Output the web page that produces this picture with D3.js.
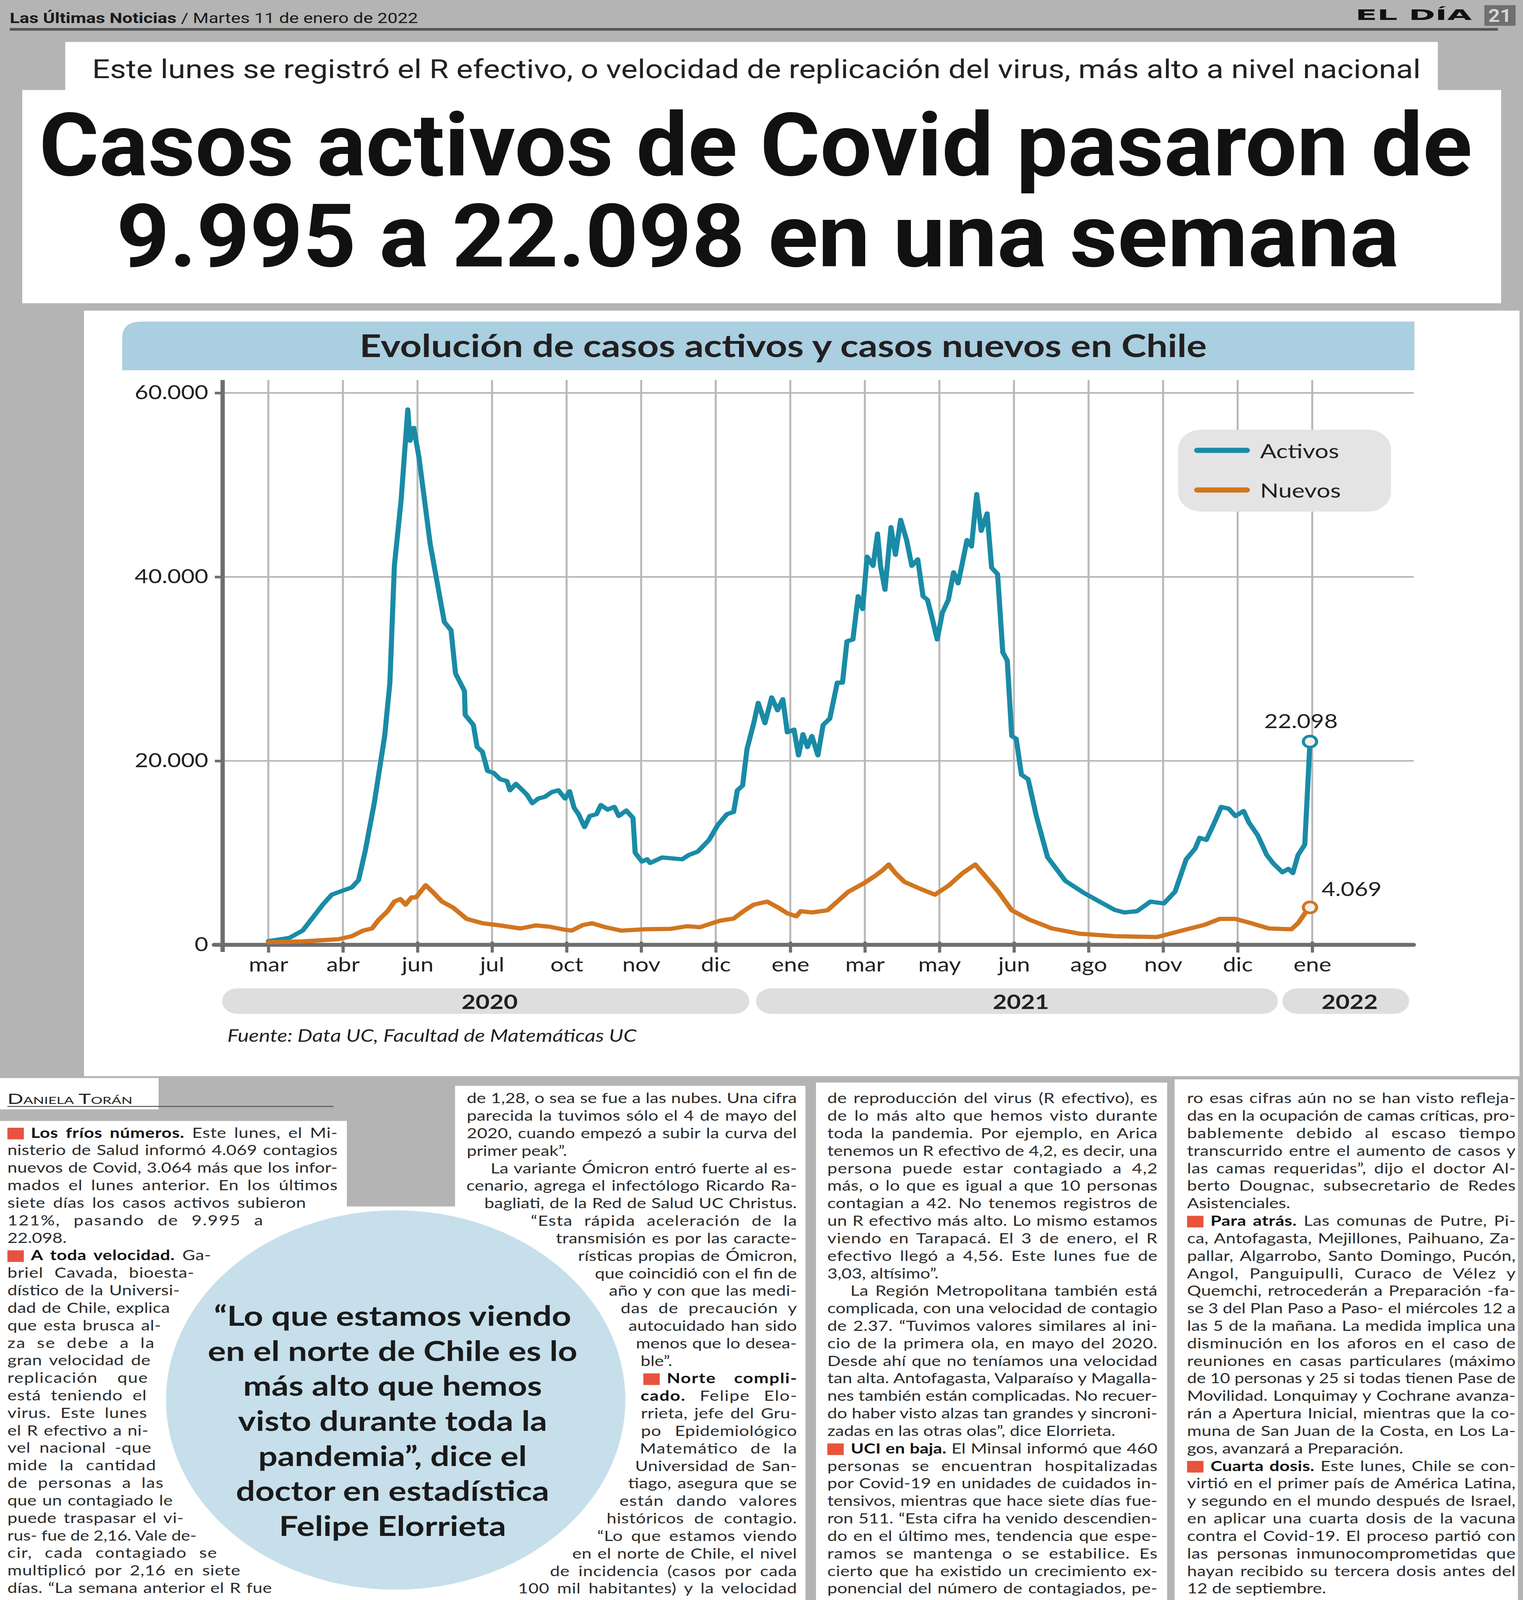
<!DOCTYPE html>
<html>
<head>
<meta charset="utf-8">
<script src="https://cdn.jsdelivr.net/npm/d3@7"></script>
<style>
    html, body { margin: 0; padding: 0; background: #b4b4b4; overflow: hidden; }
    svg { display: block; }
</style>
</head>
<body>
<div id="page"></div>
<script>

// ---- chart data (month index 0..14 = gridlines) ----
const monthLabels = ["mar", "abr", "jun", "jul", "oct", "nov", "dic", "ene", "mar", "may", "jun", "ago", "nov", "dic", "ene"];
const yTicks = [0, 20000, 40000, 60000];
const yearLabels = ["2020", "2021", "2022"];
const yearStart = [-0.62, 6.54, 13.6];
const yearEnd = [6.45, 13.54, 15.3];
const seriesNames = ["Activos", "Nuevos"];
const seriesColors = ["#1a8ba6", "#d2751f"];

const activos = [
    [0, 400], [0.28, 750], [0.46, 1550], [0.58, 2800], [0.73, 4370], [0.85, 5450], [1.0, 5900], [1.12, 6250],
    [1.21, 7040], [1.30, 10240], [1.42, 15400], [1.56, 22700], [1.63, 28500], [1.69, 41200], [1.78, 48300],
    [1.87, 58200], [1.90, 54800], [1.95, 56200], [2.02, 53000], [2.17, 43600], [2.36, 35100], [2.45, 34200],
    [2.51, 29500], [2.63, 27600], [2.64, 25000], [2.75, 23900], [2.80, 21500], [2.87, 21000], [2.94, 18900],
    [3.02, 18700], [3.11, 18000], [3.20, 17800], [3.24, 16800], [3.32, 17500], [3.41, 16800], [3.47, 16300],
    [3.54, 15400], [3.62, 15900], [3.71, 16100], [3.80, 16600], [3.89, 16800], [3.98, 15900], [4.04, 16700],
    [4.10, 14900], [4.16, 14200], [4.24, 12800], [4.31, 14000], [4.40, 14200], [4.46, 15200], [4.55, 14700],
    [4.64, 15000], [4.70, 14000], [4.80, 14600], [4.89, 13800], [4.92, 10000], [5.01, 9060], [5.08, 9300],
    [5.12, 8900], [5.28, 9500], [5.55, 9300], [5.64, 9770], [5.76, 10140], [5.91, 11400], [6.03, 13050],
    [6.15, 14200], [6.24, 14450], [6.29, 16800], [6.36, 17300], [6.42, 21300], [6.51, 24100], [6.57, 26300],
    [6.66, 24100], [6.75, 26900], [6.83, 25500], [6.90, 26700], [6.96, 23100], [7.05, 23400], [7.11, 20600],
    [7.17, 22900], [7.23, 21500], [7.29, 22700], [7.37, 20600], [7.44, 23900], [7.53, 24600], [7.63, 28500],
    [7.70, 28500], [7.76, 33000], [7.84, 33200], [7.91, 37900], [7.97, 36500], [8.03, 42200], [8.11, 41200],
    [8.17, 44700], [8.21, 41200], [8.27, 38600], [8.35, 45400], [8.41, 42400], [8.48, 46200], [8.56, 44000],
    [8.63, 41200], [8.71, 41900], [8.78, 37900], [8.84, 37500], [8.90, 35600], [8.97, 33200], [9.04, 36100],
    [9.12, 37500], [9.19, 40500], [9.25, 39300], [9.30, 41200], [9.37, 44000], [9.43, 43300], [9.50, 49000],
    [9.56, 45000], [9.64, 46900], [9.70, 41000], [9.78, 40300], [9.85, 31800], [9.91, 30900], [9.97, 22700],
    [10.03, 22400], [10.10, 18500], [10.19, 18000], [10.30, 14000], [10.45, 9530], [10.69, 6950], [10.93, 5680],
    [11.17, 4600], [11.35, 3800], [11.48, 3520], [11.65, 3660], [11.83, 4700], [12.01, 4500], [12.16, 5780],
    [12.31, 9300], [12.43, 10470], [12.49, 11640], [12.58, 11400], [12.70, 13500], [12.78, 15000], [12.88, 14800],
    [12.97, 14000], [13.08, 14550], [13.15, 13300], [13.27, 11900], [13.39, 9770], [13.48, 8830], [13.60, 7890],
    [13.68, 8260], [13.74, 7800], [13.81, 9770], [13.90, 10900], [13.97, 22098]
];

const nuevos = [
    [0, 280], [0.46, 380], [0.94, 610], [1.12, 940], [1.27, 1550], [1.39, 1780], [1.48, 2720], [1.60, 3660],
    [1.69, 4700], [1.77, 4980], [1.84, 4370], [1.92, 5160], [1.98, 5160], [2.11, 6480], [2.20, 5780], [2.33, 4700],
    [2.48, 4040], [2.66, 2820], [2.87, 2350], [3.11, 2110], [3.38, 1780], [3.59, 2110], [3.77, 1970], [3.98, 1640],
    [4.07, 1550], [4.22, 2160], [4.34, 2350], [4.52, 1920], [4.73, 1550], [5.04, 1690], [5.40, 1740], [5.61, 2020],
    [5.79, 1920], [6.06, 2630], [6.24, 2860], [6.39, 3760], [6.51, 4370], [6.69, 4700], [6.84, 4040], [6.96, 3430],
    [7.08, 3100], [7.14, 3660], [7.29, 3520], [7.50, 3760], [7.63, 4700], [7.78, 5780], [7.99, 6710], [8.14, 7510],
    [8.24, 8120], [8.32, 8730], [8.41, 7790], [8.53, 6850], [8.74, 6100], [8.94, 5450], [9.13, 6480], [9.31, 7790],
    [9.48, 8730], [9.61, 7510], [9.79, 5780], [9.97, 3760], [10.21, 2720], [10.51, 1780], [10.87, 1220], [11.35, 940],
    [11.92, 850], [12.25, 1550], [12.55, 2160], [12.76, 2820], [12.97, 2820], [13.18, 2350], [13.42, 1780],
    [13.72, 1690], [13.81, 2350], [13.90, 3400], [13.97, 4069]
];

// ---- article text (■ = red square, **bold**, ¶ = paragraph end) ----
const quoteLines = ["“Lo que estamos viendo", "en el norte de Chile es lo", "más alto que hemos",
    "visto durante toda la", "pandemia”, dice el", "doctor en estadística", "Felipe Elorrieta"];

const col1Lines = [
    "■**Los fríos números.** Este lunes, el Mi-", "nisterio de Salud informó 4.069 contagios",
    "nuevos de Covid, 3.064 más que los infor-", "mados el lunes anterior. En los últimos",
    "siete días los casos activos subieron", "121%, pasando de 9.995 a", "22.098.¶",
    "■**A toda velocidad.** Ga-", "briel Cavada, bioesta-", "dístico de la Universi-", "dad de Chile, explica",
    "que esta brusca al-", "za se debe a la", "gran velocidad de", "replicación que", "está teniendo el",
    "virus. Este lunes", "el R efectivo a ni-", "vel nacional -que", "mide la cantidad", "de personas a las",
    "que un contagiado le", "puede traspasar el vi-", "rus- fue de 2,16. Vale de-", "cir, cada contagiado se",
    "multiplicó por 2,16 en siete", "días. “La semana anterior el R fue"
];
const col1Ends = [864, 864, 864, 864, 783, 673, 864, 540, 497, 460, 435, 412, 395, 385, 378, 375, 376, 380, 387,
    399, 418, 442, 470, 503, 555, 615, 696];

const col2Lines = [
    "de 1,28, o sea se fue a las nubes. Una cifra", "parecida la tuvimos sólo el 4 de mayo del",
    "2020, cuando empezó a subir la curva del", "primer peak”.¶", "La variante Ómicron entró fuerte al es-",
    "cenario, agrega el infectólogo Ricardo Ra-", "bagliati, de la Red de Salud UC Christus.",
    "“Esta rápida aceleración de la", "transmisión es por las caracte-", "rísticas propias de Ómicron,",
    "que coincidió con el fin de", "año y con que las medi-", "das de precaución y", "autocuidado han sido",
    "menos que lo desea-", "ble”.¶", "■**Norte compli-**", "**cado.** Felipe Elo-", "rrieta, jefe del Gru-",
    "po Epidemiológico", "Matemático de la", "Universidad de San-", "tiago, asegura que se",
    "están dando valores", "históricos de contagio.", "“Lo que estamos viendo", "en el norte de Chile, el nivel",
    "de incidencia (casos por cada", "100 mil habitantes) y la velocidad"
];
const col2Starts = [1195, 1195, 1195, 1195, 1256, 1194, 1240, 1359, 1423, 1480, 1523, 1559, 1589, 1609, 1628,
    1640, 1647, 1640, 1641, 1641, 1638, 1626, 1608, 1586, 1553, 1529, 1465, 1408, 1326];

const col3Lines = [
    "de reproducción del virus (R efectivo), es", "de lo más alto que hemos visto durante",
    "toda la pandemia. Por ejemplo, en Arica", "tenemos un R efectivo de 4,2, es decir, una",
    "persona puede estar contagiado a 4,2", "más, o lo que es igual a que 10 personas",
    "contagian a 42. No tenemos registros de", "un R efectivo más alto. Lo mismo estamos",
    "viendo en Tarapacá. El 3 de enero, el R", "efectivo llegó a 4,56. Este lunes fue de",
    "3,03, altísimo”.¶", "La Región Metropolitana también está", "complicada, con una velocidad de contagio",
    "de 2.37. “Tuvimos valores similares al ini-", "cio de la primera ola, en mayo del 2020.",
    "Desde ahí que no teníamos una velocidad", "tan alta. Antofagasta, Valparaíso y Magalla-",
    "nes también están complicadas. No recuer-", "do haber visto alzas tan grandes y sincroni-",
    "zadas en las otras olas”, dice Elorrieta.¶", "■**UCI en baja.** El Minsal informó que 460",
    "personas se encuentran hospitalizadas", "por Covid-19 en unidades de cuidados in-",
    "tensivos, mientras que hace siete días fue-", "ron 511. “Esta cifra ha venido descendien-",
    "do en el último mes, tendencia que espe-", "ramos se mantenga o se estabilice. Es",
    "cierto que ha existido un crecimiento ex-", "ponencial del número de contagiados, pe-"
];

const col4Lines = [
    "ro esas cifras aún no se han visto refleja-", "das en la ocupación de camas críticas, pro-",
    "bablemente debido al escaso tiempo", "transcurrido entre el aumento de casos y",
    "las camas requeridas”, dijo el doctor Al-", "berto Dougnac, subsecretario de Redes", "Asistenciales.¶",
    "■**Para atrás.** Las comunas de Putre, Pi-", "ca, Antofagasta, Mejillones, Paihuano, Za-",
    "pallar, Algarrobo, Santo Domingo, Pucón,", "Angol, Panguipulli, Curaco de Vélez y",
    "Quemchi, retrocederán a Preparación -fa-", "se 3 del Plan Paso a Paso- el miércoles 12 a",
    "las 5 de la mañana. La medida implica una", "disminución en los aforos en el caso de",
    "reuniones en casas particulares (máximo", "de 10 personas y 25 si todas tienen Pase de",
    "Movilidad. Lonquimay y Cochrane avanza-", "rán a Apertura Inicial, mientras que la co-",
    "muna de San Juan de la Costa, en Los La-", "gos, avanzará a Preparación.¶",
    "■**Cuarta dosis.** Este lunes, Chile se con-", "virtió en el primer país de América Latina,",
    "y segundo en el mundo después de Israel,", "en aplicar una cuarta dosis de la vacuna",
    "contra el Covid-19. El proceso partió con", "las personas inmunocomprometidas que",
    "hayan recibido su tercera dosis antes del", "12 de septiembre.¶"
];

// ---- page ----
// the page is laid out on a 3899 x 4960 sheet and fitted into the window
const W = 3899, H = 4960;
const ink = "#231f20";
const narrow = "Roboto, 'Liberation Sans', sans-serif";

const svg = d3.select("#page").append("svg")
    .attr("width", window.innerWidth || W)
    .attr("height", window.innerHeight || H)
    .attr("viewBox", "0 0 " + W + " " + H)
    .attr("preserveAspectRatio", "none")
    .attr("font-family", "Lato, 'Open Sans', sans-serif");

svg.append("rect").attr("width", W).attr("height", H).attr("fill", "#b4b4b4");

// header strip
let hdr = svg.append("text")
    .attr("x", 25).attr("y", 72)
    .attr("font-family", narrow).attr("font-size", 44).attr("fill", "#1a1a1a")
    .attr("textLength", 1045).attr("lengthAdjust", "spacingAndGlyphs");
hdr.append("tspan").attr("font-weight", 700).text("Las Últimas Noticias");
hdr.append("tspan").text(" / Martes 11 de enero de 2022");

svg.append("text")
    .attr("x", 3470).attr("y", 62)
    .attr("font-family", "'DejaVu Sans', sans-serif").attr("font-weight", 700).attr("font-size", 46)
    .attr("fill", "#111")
    .attr("textLength", 298).attr("lengthAdjust", "spacingAndGlyphs")
    .text("EL DÍA");

svg.append("rect").attr("x", 3800).attr("y", 16).attr("width", 80).attr("height", 64).attr("fill", "#6f6f6f");
svg.append("text")
    .attr("x", 3840).attr("y", 68).attr("text-anchor", "middle")
    .attr("font-family", narrow).attr("font-weight", 700).attr("font-size", 56).attr("fill", "#d6d6d6")
    .attr("textLength", 60).attr("lengthAdjust", "spacingAndGlyphs")
    .text("21");

svg.append("line")
    .attr("x1", 25).attr("x2", 3835).attr("y1", 91).attr("y2", 91)
    .attr("stroke", "#555").attr("stroke-width", 8);

// sub headline + headline
svg.append("rect").attr("x", 167).attr("y", 130).attr("width", 3514).attr("height", 160).attr("fill", "#fff");
svg.append("rect").attr("x", 57).attr("y", 279).attr("width", 3786).attr("height", 661).attr("fill", "#fff");

svg.append("text")
    .attr("x", 236).attr("y", 242)
    .attr("font-family", narrow).attr("font-size", 80).attr("fill", "#222")
    .attr("textLength", 3401).attr("lengthAdjust", "spacingAndGlyphs")
    .text("Este lunes se registró el R efectivo, o velocidad de replicación del virus, más alto a nivel nacional");

svg.append("text")
    .attr("x", 100).attr("y", 544)
    .attr("font-family", narrow).attr("font-weight", 700).attr("font-size", 272).attr("fill", "#111")
    .attr("textLength", 3669).attr("lengthAdjust", "spacingAndGlyphs")
    .text("Casos activos de Covid pasaron de");

svg.append("text")
    .attr("x", 298).attr("y", 826)
    .attr("font-family", narrow).attr("font-weight", 700).attr("font-size", 272).attr("fill", "#111")
    .attr("textLength", 3284).attr("lengthAdjust", "spacingAndGlyphs")
    .text("9.995 a 22.098 en una semana");

// ---- chart ----
svg.append("rect").attr("x", 215).attr("y", 963).attr("width", 3675).attr("height", 2373).attr("fill", "#fff");

const chart = svg.append("g");

chart.append("path")
    .attr("d", "M313,1148 L313,1047 Q313,997 363,997 L3621,997 L3621,1148 Z")
    .attr("fill", "#a9cfe0");

let title = chart.append("text")
    .attr("x", 2005).attr("y", 1069)
    .attr("text-anchor", "middle").attr("dominant-baseline", "central")
    .attr("font-weight", 700).attr("font-size", 80).attr("fill", ink)
    .text("Evolución de casos activos y casos nuevos en Chile");
title.attr("font-size", 80 * 2169 / title.node().getComputedTextLength());

const x = d3.scaleLinear().domain([-0.613, 15.36]).range([570, 3619]);
const y = d3.scaleLinear().domain([0, 60000]).range([2929, 1218]);

const fmt = d3.formatLocale({decimal: ",", thousands: ".", grouping: [3], currency: ["$", ""]}).format(",d");

// gridlines
chart.append("g").selectAll("line")
    .data(d3.range(monthLabels.length))
    .join("line")
    .attr("x1", d => x(d)).attr("x2", d => x(d))
    .attr("y1", y(60000) - 40).attr("y2", y(0))
    .attr("stroke", "#b8b8b8").attr("stroke-width", 5);

chart.append("g").selectAll("line")
    .data(yTicks.filter(d => d > 0))
    .join("line")
    .attr("x1", x.range()[0]).attr("x2", x.range()[1])
    .attr("y1", d => y(d)).attr("y2", d => y(d))
    .attr("stroke", "#b8b8b8").attr("stroke-width", 5);

// axes
const yAxis = d3.axisLeft(y).tickValues(yTicks).tickFormat(fmt).tickSize(20).tickPadding(17);
const xAxis = d3.axisBottom(x).tickValues(d3.range(monthLabels.length)).tickFormat(i => monthLabels[i])
    .tickSize(24).tickPadding(16);

let gy = chart.append("g").attr("transform", "translate(" + x.range()[0] + ",0)").call(yAxis);
let gx = chart.append("g").attr("transform", "translate(0," + y(0) + ")").call(xAxis);

[gx, gy].forEach(g => {
    g.select(".domain").remove();
    g.selectAll(".tick line").attr("stroke", "#6d6e71").attr("stroke-width", 8);
    g.selectAll(".tick text").attr("font-family", "Lato, sans-serif").attr("font-size", 60).attr("fill", ink);
});
gx.selectAll(".tick line").attr("y1", -10);

chart.append("line")
    .attr("x1", x.range()[0]).attr("x2", x.range()[0])
    .attr("y1", y(60000) - 40).attr("y2", y(0) + 22)
    .attr("stroke", "#6d6e71").attr("stroke-width", 11);

chart.append("line")
    .attr("x1", x.range()[0] - 22).attr("x2", x.range()[1])
    .attr("y1", y(0)).attr("y2", y(0))
    .attr("stroke", "#6d6e71").attr("stroke-width", 12).attr("stroke-linecap", "round");

// series
const line = d3.line().x(d => x(d[0])).y(d => y(d[1]));
const series = [activos, nuevos];

chart.append("g").selectAll("path")
    .data(series)
    .join("path")
    .attr("d", line)
    .attr("fill", "none")
    .attr("stroke", (d, i) => seriesColors[i])
    .attr("stroke-width", 13)
    .attr("stroke-linejoin", "round")
    .attr("stroke-linecap", "round");

chart.append("g").selectAll("circle")
    .data(series.map(s => s[s.length - 1]))
    .join("circle")
    .attr("cx", d => x(d[0])).attr("cy", d => y(d[1]))
    .attr("r", 17)
    .attr("fill", "#f4f0ec")
    .attr("stroke", (d, i) => seriesColors[i])
    .attr("stroke-width", 8);

const lastA = activos[activos.length - 1], lastN = nuevos[nuevos.length - 1];
chart.append("text")
    .attr("x", x(lastA[0]) - 23).attr("y", y(lastA[1]) - 42)
    .attr("text-anchor", "middle").attr("font-size", 60).attr("fill", ink)
    .text(fmt(lastA[1]));
chart.append("text")
    .attr("x", x(lastN[0]) + 30).attr("y", y(lastN[1]) - 35)
    .attr("font-size", 60).attr("fill", ink)
    .text(fmt(lastN[1]));

// legend
const legend = chart.append("g").attr("transform", "translate(3016,1332)");
legend.append("rect").attr("width", 545).attr("height", 254).attr("rx", 60).attr("fill", "#e4e4e4");
seriesNames.forEach((name, i) => {
    legend.append("line")
        .attr("x1", 49).attr("x2", 176).attr("y1", 64 + i * 123).attr("y2", 64 + i * 123)
        .attr("stroke", seriesColors[i]).attr("stroke-width", 16).attr("stroke-linecap", "round");
    legend.append("text")
        .attr("x", 210).attr("y", 64 + i * 123).attr("dominant-baseline", "central")
        .attr("font-size", 62).attr("fill", ink)
        .text(name);
});

// year bands
const years = chart.append("g").selectAll("g")
    .data(yearLabels)
    .join("g");
years.append("rect")
    .attr("x", (d, i) => x(yearStart[i])).attr("width", (d, i) => x(yearEnd[i]) - x(yearStart[i]))
    .attr("y", 3064).attr("height", 79).attr("rx", 39)
    .attr("fill", "#dedede");
years.append("text")
    .attr("x", (d, i) => (x(yearStart[i]) + x(yearEnd[i])) / 2 + 10).attr("y", 3104)
    .attr("text-anchor", "middle").attr("dominant-baseline", "central")
    .attr("font-weight", 700).attr("font-size", 62).attr("fill", ink)
    .text(d => d);

chart.append("text")
    .attr("x", 582).attr("y", 3230)
    .attr("font-style", "italic").attr("font-size", 54).attr("fill", ink)
    .text("Fuente: Data UC, Facultad de Matemáticas UC");

// ---- article ----
const art = svg.append("g");
art.append("rect").attr("x", 0).attr("y", 3342).attr("width", 406).attr("height", 97).attr("fill", "#fff");
art.append("rect").attr("x", 0).attr("y", 3475).attr("width", 888).attr("height", 1485).attr("fill", "#fff");
art.append("rect").attr("x", 888).attr("y", 3740).attr("width", 277).attr("height", 1220).attr("fill", "#fff");
art.append("rect").attr("x", 1165).attr("y", 3366).attr("width", 897).attr("height", 1594).attr("fill", "#fff");
art.append("rect").attr("x", 2089).attr("y", 3356).attr("width", 899).attr("height", 1604).attr("fill", "#fff");
art.append("rect").attr("x", 3007).attr("y", 3346).attr("width", 879).attr("height", 1614).attr("fill", "#fff");

art.append("text")
    .attr("x", 19).attr("y", 3422)
    .attr("font-size", 44).attr("font-variant", "small-caps").attr("fill", "#222")
    .attr("textLength", 320).attr("lengthAdjust", "spacingAndGlyphs")
    .text("Daniela Torán");
art.append("line")
    .attr("x1", 19).attr("x2", 854).attr("y1", 3430).attr("y2", 3430)
    .attr("stroke", "#555").attr("stroke-width", 3);

// quote circle
art.append("circle").attr("cx", 1013).attr("cy", 4340).attr("r", 588).attr("fill", "#c6dfeb");

const quote = art.append("g");
quote.selectAll("text")
    .data(quoteLines)
    .join("text")
    .attr("x", 1005).attr("y", (d, i) => 4077 + i * 108.5)
    .attr("text-anchor", "middle").attr("dominant-baseline", "central")
    .attr("font-weight", 700).attr("font-size", 84).attr("fill", "#1a1a1a")
    .text(d => d);
let qref = quote.selectAll("text").filter((d, i) => i === 1).node().getComputedTextLength();
quote.selectAll("text").attr("font-size", 84 * 946 / qref);

const LINE = 54.28;

function drawColumn(lines, opt) {
    lines.forEach((raw, i) => {
        let s = raw, sq = false, last = false;
        if (s.startsWith("■")) { sq = true; s = s.slice(1); }
        if (s.endsWith("¶")) { last = true; s = s.slice(0, -1); }
        const cy = opt.y0 + i * LINE;
        const left = opt.starts ? opt.starts[i] : (opt.indent && opt.indent[i] ? opt.indent[i] : opt.x0);
        const right = opt.ends ? opt.ends[i] : opt.x1;
        let tx = left;
        if (sq) {
            art.append("rect")
                .attr("x", left).attr("y", cy - 19).attr("width", 42).attr("height", 36)
                .attr("fill", "#e8533e");
            tx = left + 60;
        }
        const t = art.append("text")
            .attr("x", tx).attr("y", cy + 12)
            .attr("font-size", 45).attr("fill", "#2b2b2b");
        s.split("**").forEach((seg, k) => {
            if (seg) t.append("tspan").attr("font-weight", k % 2 ? 700 : 400).attr("fill", k % 2 ? "#111" : null).text(seg);
        });
        const nat = t.node().getComputedTextLength();
        const avail = right - tx;
        if (nat > avail) {
            t.attr("textLength", avail).attr("lengthAdjust", "spacingAndGlyphs");
        } else if (!last) {
            const spaces = (s.match(/ /g) || []).length;
            if (spaces > 0) t.style("word-spacing", ((avail - nat) * 0.6 / spaces) + "px");
            t.attr("textLength", avail).attr("lengthAdjust", "spacing");
        }
    });
}

drawColumn(col1Lines, {y0: 3515, x0: 19, ends: col1Ends});
drawColumn(col2Lines, {y0: 3408, starts: col2Starts, x1: 2040});
drawColumn(col3Lines, {y0: 3408, x0: 2118, x1: 2963, indent: {11: 2177}});
drawColumn(col4Lines, {y0: 3408, x0: 3039, x1: 3880});

</script>
</body>
</html>
